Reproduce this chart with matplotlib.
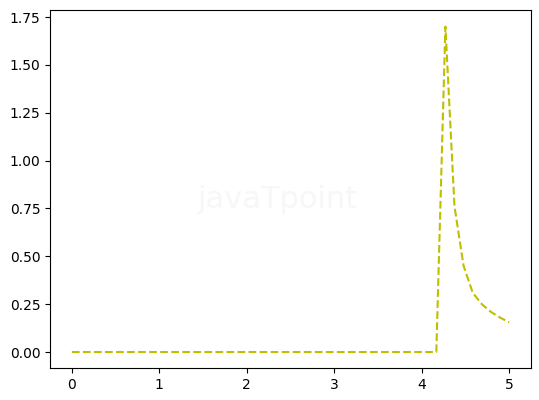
import matplotlib
matplotlib.use('Agg')
import matplotlib.pyplot as plt

# valores
x = [0.0, 4.167, 4.271, 4.375, 4.479, 4.583, 4.6875, 4.79, 4.896, 5.0]
y = [0.0, 0.0, 1.70, 0.76, 0.45, 0.31, 0.25, 0.21, 0.18, 0.155]

fig = plt.figure(figsize=(5.39, 4.0), dpi=100)
ax = fig.add_axes([0.0928, 0.0793, 0.8924, 0.8947])

ax.plot(x, y, 'y--')

# marca d'agua fraquinha
fig.text(0.515, 0.50, 'javaTpoint', color='#f7f7f7', fontsize=22,
         ha='center', va='center', zorder=0)

fig.savefig('out.png', dpi=100)
